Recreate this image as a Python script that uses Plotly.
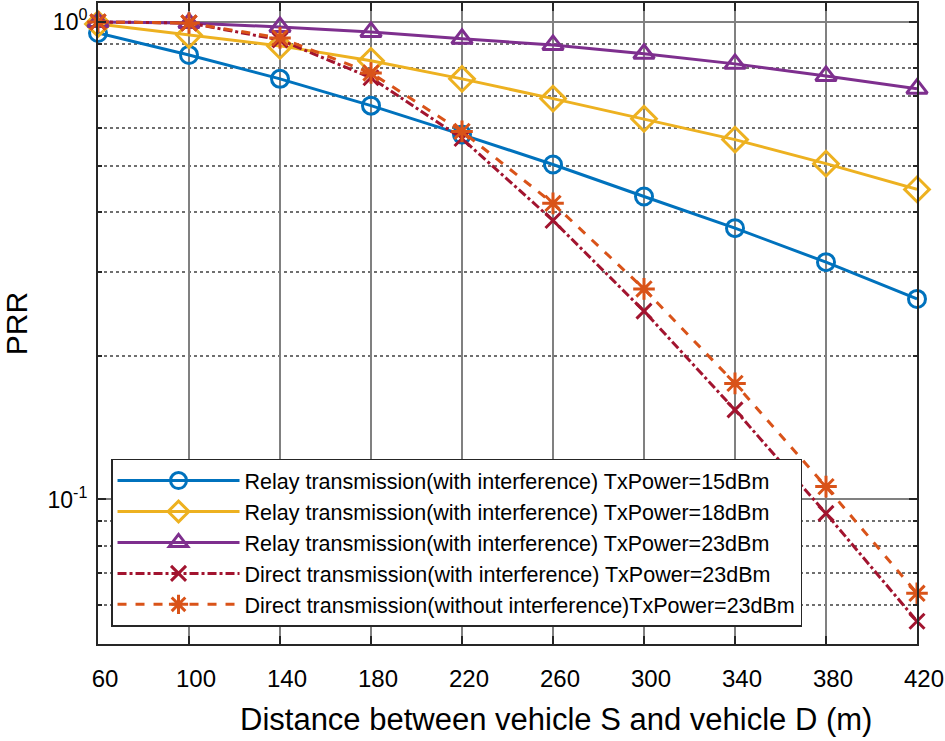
import plotly.graph_objects as go

distance = [60, 100, 140, 180, 220, 260, 300, 340, 380, 420]

relay_15dbm = [0.948, 0.853, 0.760, 0.668, 0.581, 0.503, 0.431, 0.370, 0.314, 0.263]
relay_18dbm = [0.990, 0.939, 0.891, 0.829, 0.760, 0.691, 0.627, 0.567, 0.505, 0.446]
relay_23dbm = [1.000, 0.995, 0.976, 0.953, 0.922, 0.895, 0.858, 0.817, 0.771, 0.725]
direct_with_int = [1.000, 0.995, 0.917, 0.764, 0.570, 0.384, 0.248, 0.154, 0.0935, 0.0556]
direct_without_int = [1.000, 0.995, 0.926, 0.782, 0.590, 0.417, 0.276, 0.175, 0.1064, 0.0636]

names = [
    "Relay transmission(with interference) TxPower=15dBm",
    "Relay transmission(with interference) TxPower=18dBm",
    "Relay transmission(with interference) TxPower=23dBm",
    "Direct transmission(with interference) TxPower=23dBm",
    "Direct transmission(without interference)TxPower=23dBm",
]

x_title = "Distance between vehicle S and vehicle D (m)"
y_title = "PRR"

x_ticks = [60, 100, 140, 180, 220, 260, 300, 340, 380, 420]
y_ticks = [0.1, 1]
y_ticktext = ["10<sup>-1</sup>", "10<sup>0</sup>"]
y_minor = [0.06, 0.07, 0.08, 0.09, 0.2, 0.3, 0.4, 0.5, 0.6, 0.7, 0.8, 0.9]

series = [relay_15dbm, relay_18dbm, relay_23dbm, direct_with_int, direct_without_int]
colors = ["#0072BD", "#EDB120", "#7E2F8E", "#A2142F", "#D95319"]
symbols = ["circle-open", "diamond-open", "triangle-up-open", "x-thin-open", "asterisk-open"]
msizes = [17, 19, 18, 15, 18]
dashes = ["solid", "solid", "solid", "dashdot", "dash"]

fig = go.Figure()
for vals, name, c, s, ms, d in zip(series, names, colors, symbols, msizes, dashes):
    fig.add_trace(go.Scatter(
        x=distance, y=vals, name=name, mode="lines+markers",
        line=dict(color=c, width=3, dash=d),
        marker=dict(symbol=s, size=ms, color=c, line=dict(color=c, width=3)),
        cliponaxis=False,
    ))

font_family = "Liberation Sans, Arial, sans-serif"

fig.update_layout(
    width=945, height=741,
    margin=dict(l=98, r=28, t=1, b=97),
    paper_bgcolor="white", plot_bgcolor="white",
    font=dict(family=font_family, color="black"),
    showlegend=True,
    legend=dict(
        x=0.0159, y=0.2893, xanchor="left", yanchor="top",
        bgcolor="white", bordercolor="#262626", borderwidth=1.5,
        font=dict(size=21.5, family=font_family, color="black"),
        itemwidth=122,
        tracegroupgap=0,
    ),
    xaxis=dict(
        range=[60, 420],
        tickvals=x_ticks,
        ticktext=[str(v) for v in x_ticks],
        tickfont=dict(size=24),
        ticks="inside", ticklen=8, tickwidth=1.5, tickcolor="#262626",
        ticklabelstandoff=12,
        ticklabelshift=7,
        showline=True, linecolor="#262626", linewidth=2, mirror="ticks",
        showgrid=True, gridcolor="#808080", gridwidth=1.5,
        zeroline=False,
    ),
    yaxis=dict(
        type="log",
        range=[-1.3027, 0.0397],
        tickvals=y_ticks,
        ticktext=y_ticktext,
        tickfont=dict(size=23),
        ticks="inside", ticklen=8, tickwidth=1.5, tickcolor="#262626",
        ticklabelstandoff=4,
        showline=True, linecolor="#262626", linewidth=2, mirror="ticks",
        showgrid=True, gridcolor="#808080", gridwidth=1.5,
        zeroline=False,
        minor=dict(tickvals=y_minor, ticks="inside", ticklen=4, tickcolor="#262626",
                   showgrid=True, gridcolor="#6f6f6f", griddash="dot", gridwidth=1.5),
        title=dict(text=y_title, font=dict(size=30), standoff=14),
    ),
    annotations=[dict(
        text=x_title, xref="paper", yref="paper", x=0.559, y=-0.118,
        xanchor="center", yanchor="middle", showarrow=False,
        font=dict(size=31, family=font_family, color="black"),
    )],
)

fig.write_html("out.html", post_script="document.body.style.margin='0px';",
               config={"displayModeBar": False})
